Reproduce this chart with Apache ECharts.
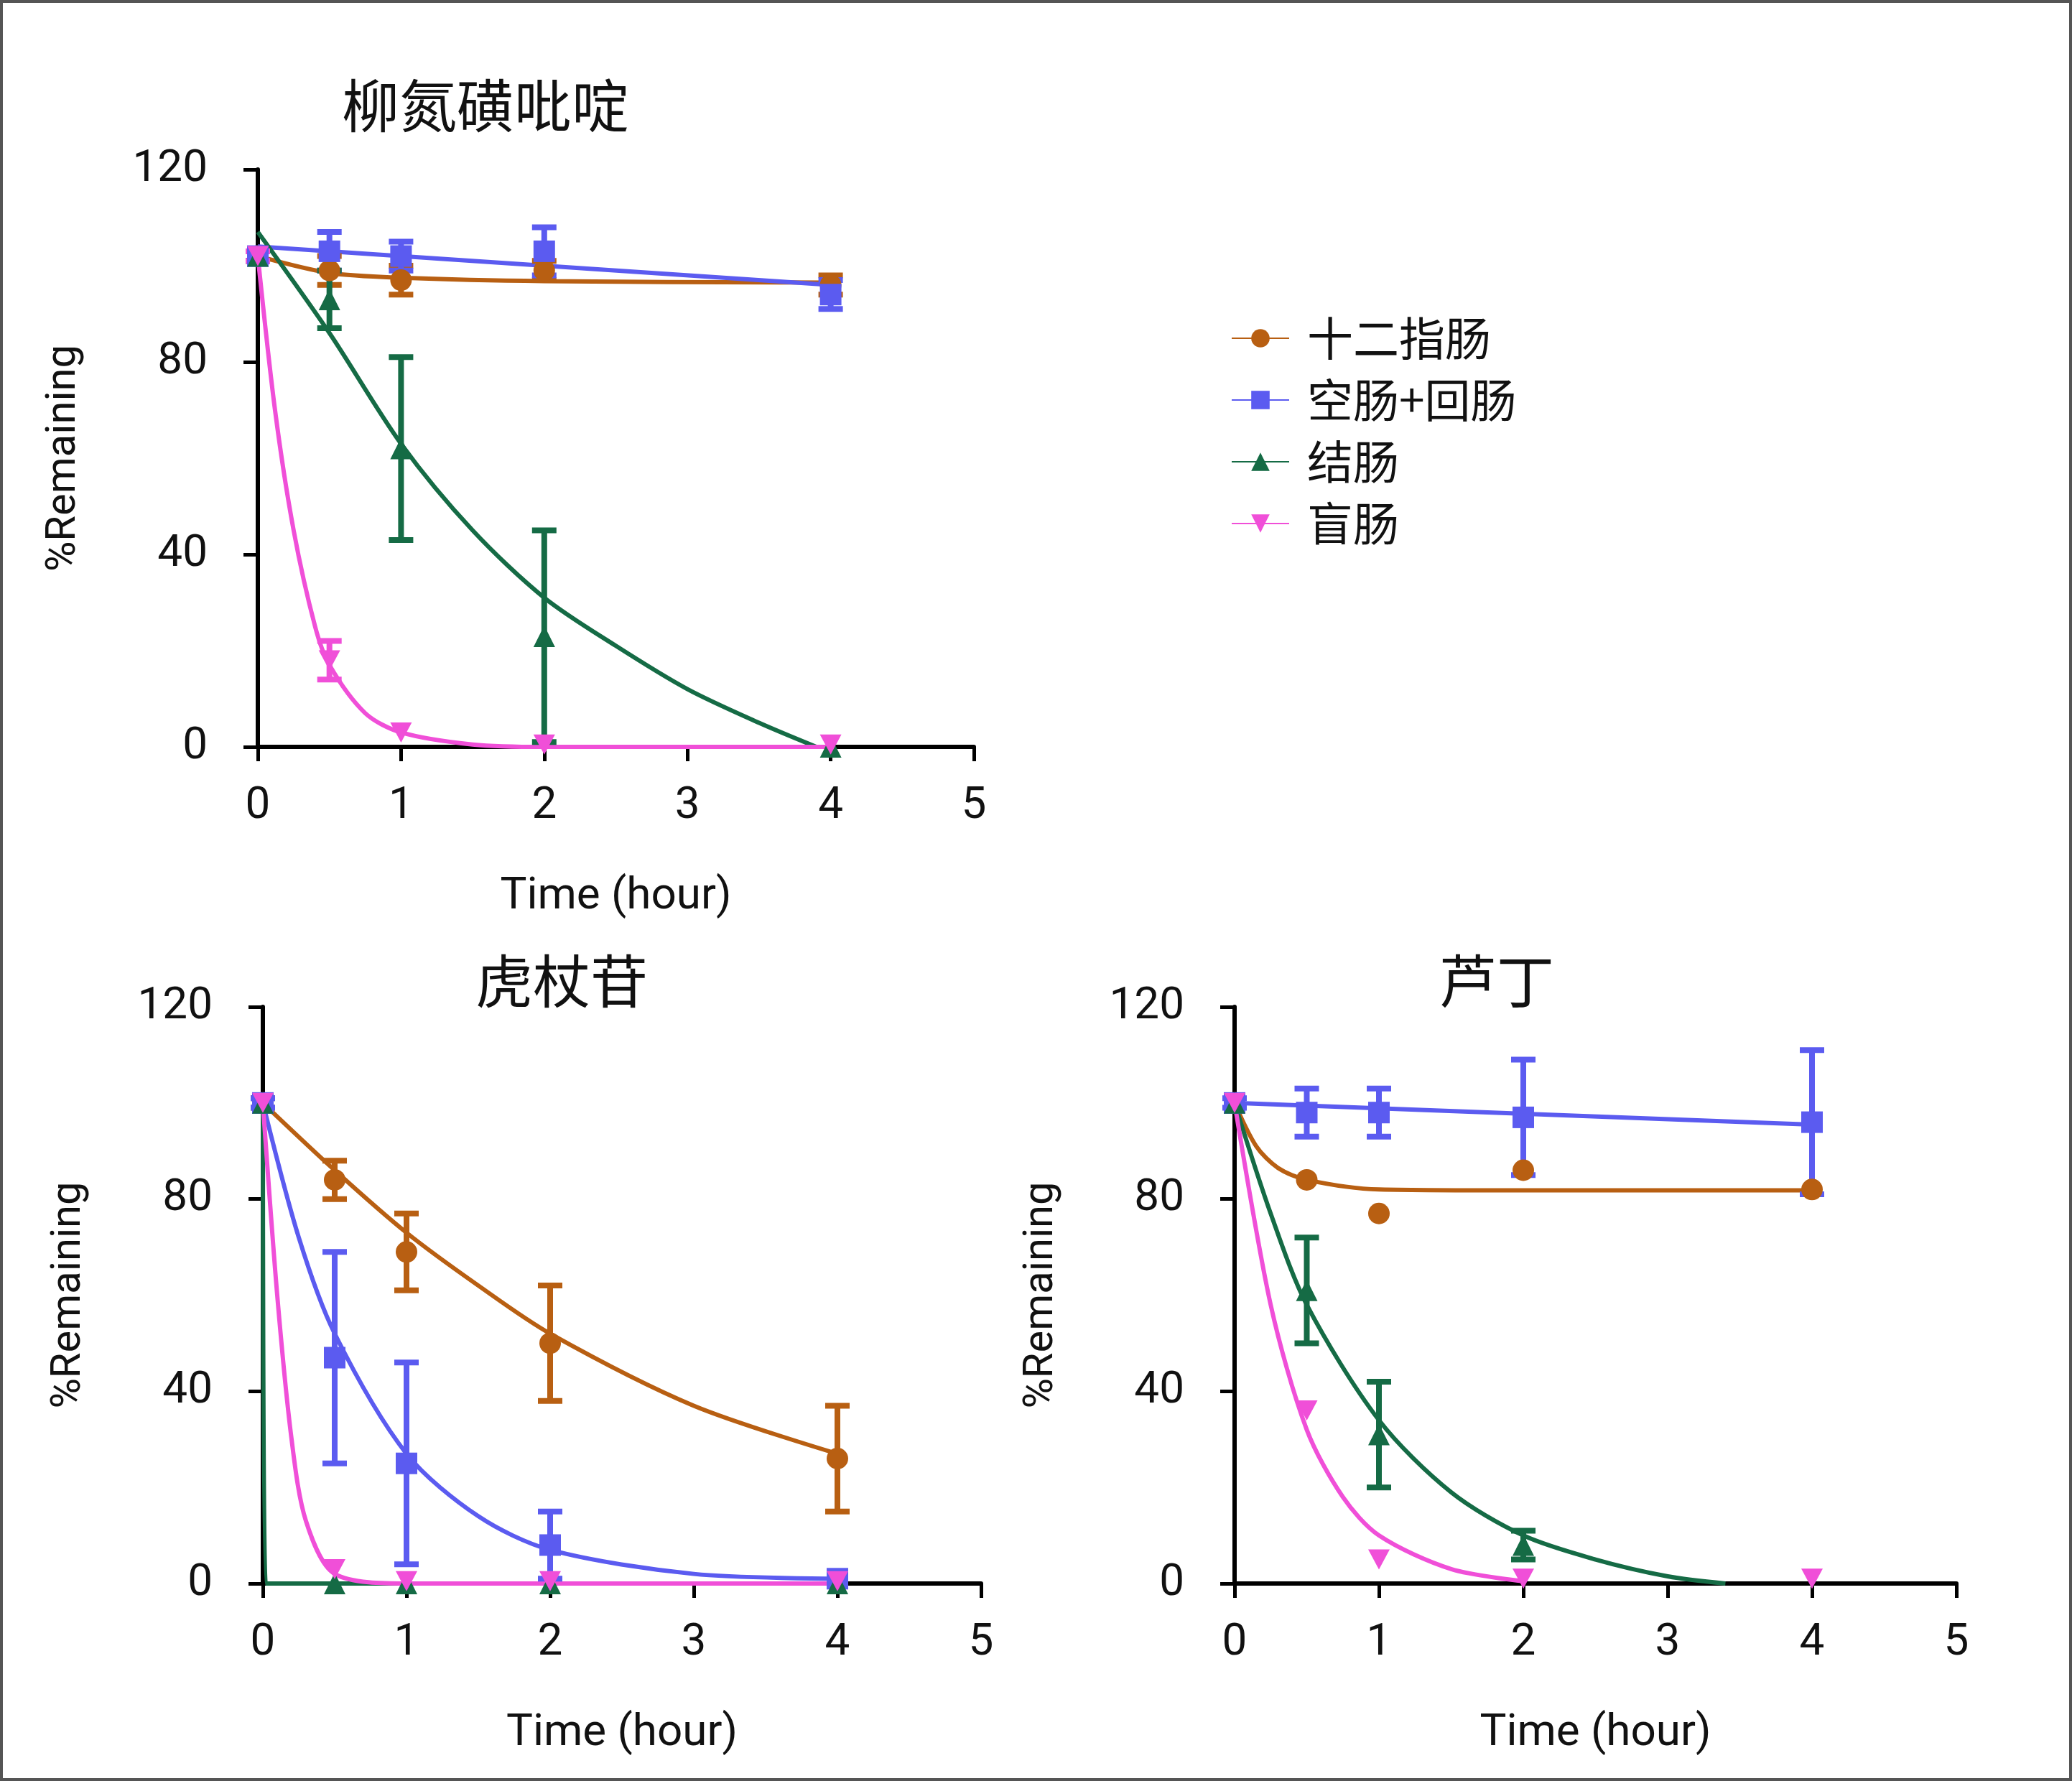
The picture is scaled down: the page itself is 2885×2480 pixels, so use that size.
<!DOCTYPE html>
<html><head><meta charset="utf-8">
<script src="https://cdn.jsdelivr.net/npm/echarts@6/dist/echarts.min.js"></script>
<style>html,body{margin:0;background:#fff}#c{width:2885px;height:2480px;box-sizing:border-box;border:4px solid #555}</style>
</head><body><div id="c"></div>
<script>
// 数据
var times = [0, 0.5, 1, 2, 4];
var names = ['十二指肠', '空肠+回肠', '结肠', '盲肠'];
var colors = ['#b85f12', '#5b5bf0', '#156b45', '#f04fd8'];
var symbols = ['circle', 'rect', 'triangle', 'path://M0,0 L10,0 L5,9 Z'];
var titles = ['柳氮磺吡啶', '虎杖苷', '芦丁'];

// 柳氮磺吡啶
var p1Mean = [[102, 99, 97, 99, 96], [102, 103, 102, 103, 94], [102, 93, 62, 23, 0], [102, 18, 3, 0.5, 0.5]];
var p1Err = [[1, 3, 3, 2, 2], [1, 4, 3, 5, 3], [1, 6, 19, 22, 0], [1, 4, 0, 0, 0]];
var p1Curve = [
  [[0, 102], [0.5, 98.5], [1, 97.5], [2, 96.8], [4, 96.5]],
  [[0, 104], [4, 96]],
  [[0, 107], [0.5, 86], [1, 63], [1.5, 45], [2, 31], [2.5, 21], [3, 12], [3.5, 5], [3.9, 0]],
  [[0, 102], [0.12, 70], [0.25, 45], [0.4, 25], [0.5, 17], [0.75, 7], [1, 3], [1.5, 0.5], [2, 0], [4, 0]]
];
// 虎杖苷
var p2Mean = [[100, 84, 69, 50, 26], [100, 47, 25, 8, 1], [100, 0, 0, 0, 0], [100, 3, 0.5, 0.5, 0.5]];
var p2Err = [[1, 4, 8, 12, 11], [1, 22, 21, 7, 0], [0, 0, 0, 0, 0], [0, 0, 0, 0, 0]];
var p2Curve = [
  [[0, 100], [0.5, 86], [1, 73], [1.5, 62], [2, 52], [3, 37], [4, 27]],
  [[0, 100], [0.25, 72], [0.5, 52], [1, 27], [1.5, 14], [2, 7], [3, 2], [4, 1]],
  [[0, 100], [0.02, 0], [4, 0]],
  [[0, 100], [0.1, 60], [0.2, 30], [0.3, 13], [0.5, 2], [1, 0], [4, 0]]
];
// 芦丁
var p3Mean = [[100, 84, 77, 86, 82], [100, 98, 98, 97, 96], [100, 61, 31, 8, null], [100, 36, 5, 1, 1]];
var p3Err = [[0, 0, 0, 0, 0], [1, 5, 5, 12, 15], [0, 11, 11, 3, 0], [0, 0, 0, 0, 0]];
var p3Curve = [
  [[0, 100], [0.15, 91], [0.3, 86.5], [0.5, 84], [1, 82], [2, 81.8], [4, 81.8]],
  [[0, 100], [4, 95.5]],
  [[0, 100], [0.25, 77], [0.5, 58], [1, 34], [1.5, 19], [2, 10], [2.5, 5], [3, 1.5], [3.4, 0]],
  [[0, 100], [0.25, 58], [0.5, 32], [0.75, 18], [1, 10], [1.5, 3], [2, 0.5]]
];

var panels = [
  {mean: p1Mean, err: p1Err, curve: p1Curve},
  {mean: p2Mean, err: p2Err, curve: p2Curve},
  {mean: p3Mean, err: p3Err, curve: p3Curve}
];
var grids = [
  {left: 355, top: 232, width: 997, height: 804},
  {left: 362, top: 1398, width: 1000, height: 803},
  {left: 1715, top: 1398, width: 1005, height: 803}
];
var titlePos = [[672, 143], [778, 1362], [2080, 1362]];

var fontF = 'Roboto, "Noto Sans CJK SC", sans-serif';
var xAxes = [], yAxes = [], series = [], graphics = [];

grids.forEach(function (g, i) {
  xAxes.push({
    gridIndex: i, type: 'value', min: 0, max: 5, interval: 1,
    name: 'Time (hour)', nameLocation: 'middle', nameGap: 178,
    nameTextStyle: {fontSize: 62, color: '#111', fontFamily: fontF},
    axisLine: {lineStyle: {color: '#000', width: 6}},
    axisTick: {length: 20, lineStyle: {width: 5, color: '#000'}},
    axisLabel: {fontSize: 62, color: '#111', margin: 52, fontFamily: fontF},
    splitLine: {show: false}
  });
  yAxes.push({
    gridIndex: i, type: 'value', min: 0, max: 120, interval: 40,
    name: '%Remaining', nameLocation: 'middle', nameGap: 240,
    nameTextStyle: {fontSize: 58, color: '#111', fontFamily: fontF},
    axisLine: {show: true, lineStyle: {color: '#000', width: 6}},
    axisTick: {show: true, length: 20, lineStyle: {width: 5, color: '#000'}},
    axisLabel: {fontSize: 62, color: '#111', margin: 70, fontFamily: fontF},
    splitLine: {show: false}
  });
  graphics.push({type: 'text', x: titlePos[i][0], y: titlePos[i][1],
    style: {text: titles[i], fontSize: 80, fill: '#111', align: 'center', verticalAlign: 'middle', fontFamily: '"Noto Sans CJK SC"'}});

  var p = panels[i];
  names.forEach(function (n, k) {
    // 拟合曲线
    series.push({
      name: i === 0 ? n : n + i, type: 'line', xAxisIndex: i, yAxisIndex: i,
      data: p.curve[k], smooth: 0.3, showSymbol: false, symbol: symbols[k], symbolSize: 30,
      color: colors[k], lineStyle: {width: 6, color: colors[k]}, z: 2
    });
    // 误差线
    var ed = [];
    times.forEach(function (t, j) {
      if (p.mean[k][j] != null && p.err[k][j] > 0) ed.push([t, p.mean[k][j], p.err[k][j]]);
    });
    series.push({
      type: 'custom', xAxisIndex: i, yAxisIndex: i, data: ed, z: 3,
      renderItem: function (params, api) {
        var x = api.value(0), m = api.value(1), e = api.value(2);
        var hi = api.coord([x, m + e]), lo = api.coord([x, Math.max(0, m - e)]);
        var w = 17, st = {stroke: colors[k], lineWidth: 8};
        return {type: 'group', children: [
          {type: 'line', shape: {x1: hi[0], y1: hi[1], x2: lo[0], y2: lo[1]}, style: st},
          {type: 'line', shape: {x1: hi[0] - w, y1: hi[1], x2: hi[0] + w, y2: hi[1]}, style: st},
          {type: 'line', shape: {x1: lo[0] - w, y1: lo[1], x2: lo[0] + w, y2: lo[1]}, style: st}
        ]};
      }
    });
    // 数据点
    var pts = [];
    times.forEach(function (t, j) { if (p.mean[k][j] != null) pts.push([t, p.mean[k][j]]); });
    series.push({
      type: 'scatter', xAxisIndex: i, yAxisIndex: i, data: pts, symbol: symbols[k],
      symbolSize: k === 3 ? [30, 28] : 30, itemStyle: {color: colors[k], opacity: 1}, z: 4
    });
  });
});

var chart = echarts.init(document.getElementById('c'));
chart.setOption({
  animation: false,
  grid: grids,
  xAxis: xAxes,
  yAxis: yAxes,
  series: series,
  graphic: graphics,
  legend: {
    data: names, orient: 'vertical', left: 1705, top: 430, itemWidth: 80, itemHeight: 32, itemGap: 22,
    textStyle: {fontSize: 64, color: '#111', fontFamily: '"Noto Sans CJK SC"', padding: [0, 0, 0, 20]},
    selectedMode: false
  }
});
</script></body></html>
